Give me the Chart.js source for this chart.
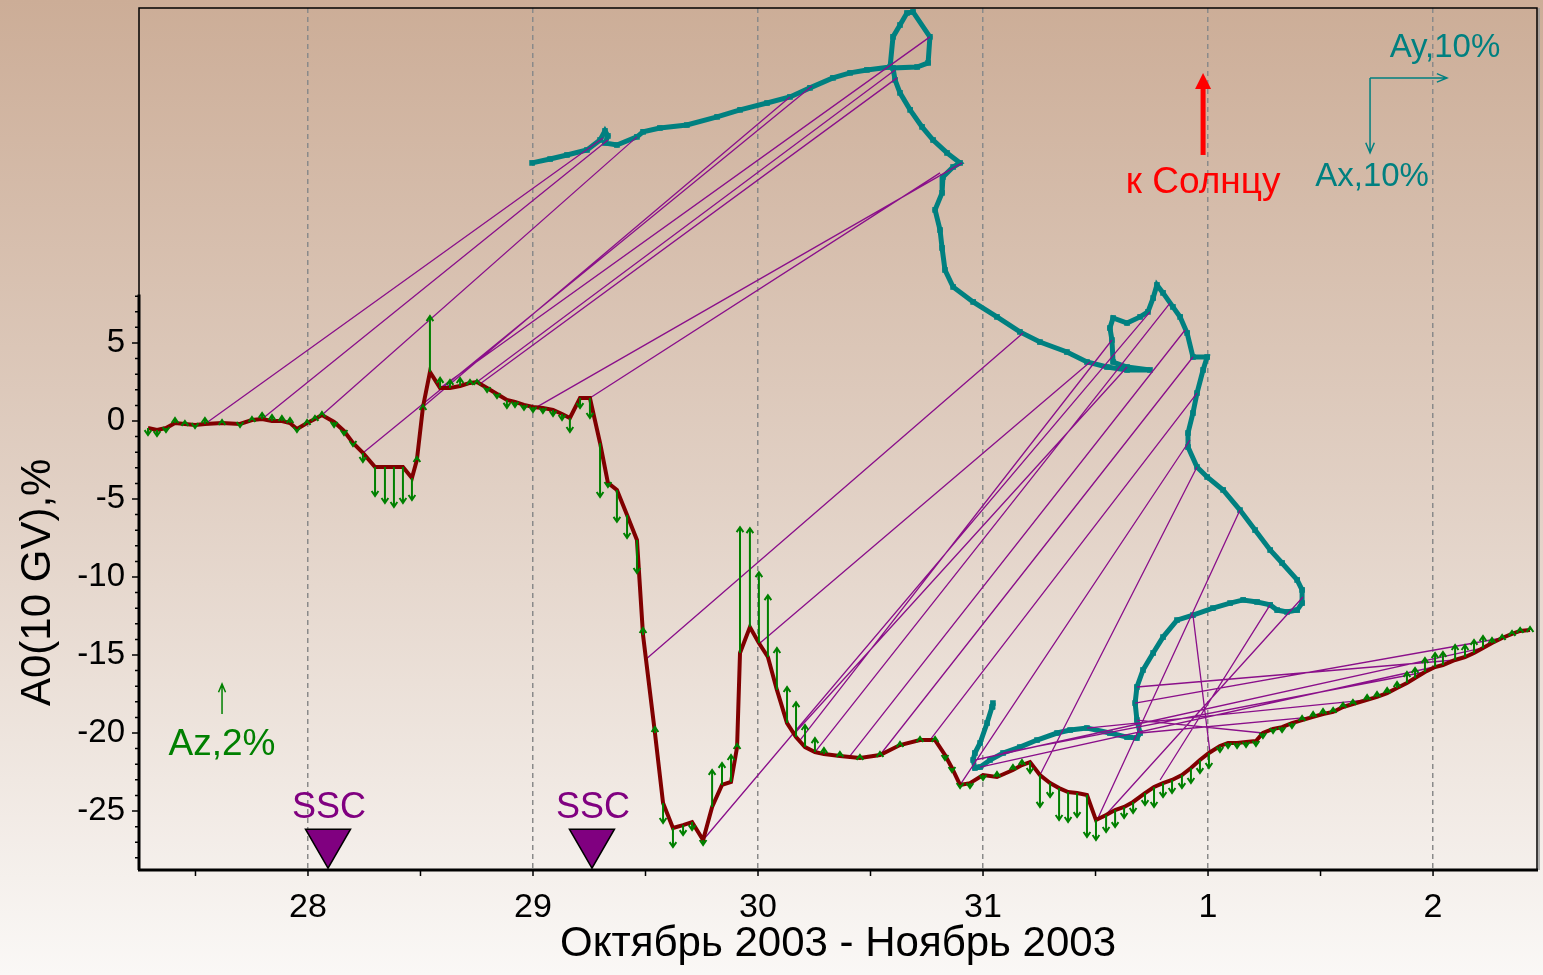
<!DOCTYPE html>
<html>
<head>
<meta charset="utf-8">
<script src="https://cdn.jsdelivr.net/npm/chart.js@4.4.0/dist/chart.umd.min.js"></script>
<style>
html, body { margin: 0; padding: 0; }
#wrap { width: 1543px; height: 975px; position: relative; }
</style>
</head>
<body>
<div id="wrap"><canvas id="anis-chart"></canvas></div>
<script>
// time axis: days since 28 Oct 2003 00:00
const dayTicks = [0, 1, 2, 3, 4, 5];
const dayLabels = ['28', '29', '30', '31', '1', '2'];
const yTicks = [-25, -20, -15, -10, -5, 0, 5];

// A0 (10 GV), % and Az, % at the same hours
const a0Time = [
  -0.711,-0.671,-0.631,-0.591,-0.547,-0.502,-0.458,-0.382,-0.302,-0.249,
  -0.204,-0.16,-0.116,-0.08,-0.049,-0.004,0.031,0.062,0.116,0.16,
  0.2,0.244,0.298,0.342,0.382,0.422,0.462,0.484,0.511,0.542,
  0.587,0.631,0.676,0.72,0.751,0.796,0.84,0.884,0.92,0.96,
  1.0,1.044,1.089,1.129,1.164,1.209,1.253,1.298,1.333,1.373,
  1.418,1.462,1.489,1.542,1.578,1.622,1.667,1.707,1.756,1.796,
  1.84,1.88,1.907,1.92,1.964,2.004,2.044,2.084,2.129,2.169,
  2.209,2.253,2.293,2.364,2.453,2.542,2.631,2.72,2.787,2.831,
  2.862,2.898,2.942,3.0,3.062,3.133,3.173,3.209,3.253,3.298,
  3.338,3.378,3.418,3.462,3.502,3.547,3.587,3.627,3.667,3.72,
  3.76,3.8,3.84,3.884,3.924,3.964,4.004,4.053,4.089,4.129,
  4.169,4.213,4.244,4.289,4.329,4.373,4.418,4.467,4.511,4.556,
  4.6,4.644,4.707,4.751,4.796,4.84,4.884,4.92,4.964,5.009,
  5.044,5.098,5.142,5.182,5.222,5.262,5.307,5.351,5.387,5.431
];
const a0Value = [
  -0.45,-0.58,-0.45,-0.13,-0.19,-0.26,-0.19,-0.13,-0.19,0.06,
  0.13,0,0,-0.13,-0.51,-0.13,0.13,0.38,-0.06,-0.64,
  -1.41,-2.05,-2.95,-2.95,-2.95,-2.95,-3.65,-2.5,0.9,3.14,
  2.12,2.12,2.24,2.44,2.5,2.12,1.73,1.35,1.22,1.03,
  0.9,0.83,0.71,0.45,0.19,1.47,1.47,-1.41,-3.97,-4.42,
  -6.03,-7.63,-13.72,-20.0,-24.49,-26.09,-25.9,-25.71,-26.86,-24.74,
  -23.33,-23.14,-20.9,-14.87,-13.21,-14.23,-15.13,-17.24,-19.36,-20.26,
  -20.9,-21.22,-21.35,-21.47,-21.6,-21.41,-20.77,-20.45,-20.45,-21.41,
  -22.24,-23.33,-23.21,-22.69,-22.82,-22.37,-22.05,-21.86,-22.69,-23.21,
  -23.53,-23.78,-23.85,-23.97,-25.58,-25.26,-24.94,-24.74,-24.42,-23.85,
  -23.46,-23.21,-23.01,-22.69,-22.24,-21.73,-21.28,-20.83,-20.64,-20.64,
  -20.58,-20.51,-20.0,-19.74,-19.62,-19.36,-19.17,-18.97,-18.78,-18.65,
  -18.33,-18.14,-17.88,-17.69,-17.44,-17.12,-16.79,-16.47,-16.09,-15.77,
  -15.64,-15.32,-15.13,-14.87,-14.55,-14.23,-13.91,-13.65,-13.46,-13.4
];
const a0Az = [
  -0.47,-0.4,-0.27,0.33,0.2,-0.2,0.4,0.2,-0.2,0.2,
  0.4,0.4,0.33,0.33,-0.2,0.2,0.2,0.2,-0.33,-0.27,
  -0.2,-0.6,-1.93,-2.4,-2.67,-2.4,-1.47,0.2,0.13,3.73,
  0.67,0.53,0.53,0.2,0.13,-0.27,-0.27,-0.53,-0.33,-0.33,
  -0.33,-0.33,-0.4,-0.4,-0.93,-0.67,-1.33,-3.6,-0.27,-2.13,
  -1.53,-2.2,0.47,0.4,-1.33,-1.27,-0.67,-0.53,-0.33,2.47,
  1.47,1.8,0.2,8.4,6.6,4.73,4.13,2.8,2.4,2.33,
  1.47,0.93,0.4,0.27,0.2,0.2,0.2,0.2,0.2,-0.33,
  -0.27,-0.2,-0.33,-0.33,0.33,0.33,0.33,-0.73,-2.13,-0.93,
  -2.13,-2.0,-1.6,-2.8,-1.33,-1.13,-1.13,-0.73,-0.73,-0.8,
  -1.33,-0.93,-0.87,-0.87,-1.0,-0.87,-1.0,-0.4,-0.33,-0.33,
  -0.33,-0.33,-0.33,-0.27,-0.33,-0.33,0.27,0.33,0.33,0.27,
  0.27,0.27,0.33,0.33,0.33,0.4,0.73,0.67,0.93,0.93,
  0.87,1.0,0.8,0.87,0.8,0.33,0.2,0.2,0.2,0.2
];

// horizontal anisotropy vector diagram (Ax, Ay) placed in chart units
const hodoX = [
  0.996,1.076,1.151,1.24,1.298,1.32,1.333,1.32,1.373,1.462,
  1.489,1.564,1.684,1.818,1.92,2.04,2.142,2.231,2.333,2.409,
  2.484,2.587,2.6,2.631,2.662,2.689,2.764,2.756,2.707,2.6,
  2.609,2.631,2.676,2.729,2.778,2.84,2.898,2.867,2.822,2.818,
  2.787,2.809,2.818,2.831,2.867,2.956,3.062,3.164,3.253,3.373,
  3.462,3.551,3.64,3.742,3.64,3.578,3.573,3.564,3.578,3.64,
  3.698,3.733,3.756,3.773,3.8,3.844,3.876,3.907,3.933,3.996,
  3.978,3.951,3.933,3.911,3.911,3.951,3.996,4.067,4.142,4.209,
  4.276,4.329,4.396,4.418,4.418,4.396,4.351,4.307,4.276,4.218,
  4.156,4.098,4.022,3.933,3.862,3.8,3.756,3.711,3.684,3.676,
  3.684,3.698,3.684,3.64,3.564,3.462,3.387,3.329,3.24,3.164,
  3.089,3.031,2.987,2.964,2.956,2.964,2.987,3.018,3.04,3.044
];
const hodoY = [
  16.54,16.79,17.05,17.37,18.01,18.59,18.27,17.82,17.69,18.21,
  18.53,18.78,18.97,19.49,19.94,20.38,20.77,21.35,21.99,22.31,
  22.5,22.69,24.62,25.38,26.15,26.22,24.62,22.95,22.69,22.63,
  21.86,21.03,19.94,18.85,18.01,17.18,16.54,16.28,15.64,14.62,
  13.53,12.24,11.09,9.68,8.59,7.63,6.67,5.71,5.06,4.42,
  3.78,3.46,3.27,3.27,3.46,3.78,5.19,5.96,6.6,6.28,
  6.67,6.99,7.88,8.72,8.21,7.31,6.67,5.64,4.1,4.1,
  3.27,1.79,0.51,-0.77,-1.67,-2.95,-3.59,-4.42,-5.71,-6.99,
  -8.27,-9.1,-10.19,-10.83,-11.67,-12.12,-12.24,-12.12,-11.79,-11.6,
  -11.47,-11.67,-11.99,-12.44,-12.76,-13.85,-14.87,-15.96,-17.05,-18.08,
  -19.17,-20.0,-20.32,-20.26,-20.0,-19.68,-19.81,-20.0,-20.45,-20.9,
  -21.28,-21.73,-22.18,-22.24,-21.73,-21.28,-20.64,-19.36,-18.33,-18.08
];

// connectors: A0 point -> diagram point at the same hour
const linkT = [-0.458,-0.204,0.062,0.244,0.511,0.587,0.751,0.764,1.018,1.253,
  1.498,1.756,2.009,2.156,2.187,2.253,2.409,2.542,2.764,2.898,
  3.253,3.507,3.533,3.787,4.009,4.244,4.467,4.707,4.964,5.044,
  5.222,5.307,5.098];
const linkA0 = [-0.19,0.13,0.38,-2.05,0.9,2.12,2.5,2.37,0.9,1.47,
  -15.32,-26.86,-14.23,-20.13,-20.45,-21.22,-21.47,-21.41,-20.45,-23.33,
  -22.69,-25.58,-25.45,-23.01,-21.28,-20.0,-18.97,-17.88,-16.09,-15.64,
  -14.55,-13.91,-15.32];
const linkHx = [1.311,1.333,1.462,2.24,2.142,2.764,2.609,2.618,2.907,2.809,
  3.178,3.742,3.476,3.64,3.573,3.831,3.898,3.933,3.951,3.92,
  3.951,4.142,4.422,4.276,3.933,3.684,3.698,3.462,3.089,2.987,
  2.964,3.676,3.684];
const linkHy = [18.14,18.01,18.21,21.47,20.77,24.62,22.5,21.99,16.54,15.9,
  5.64,6.99,3.78,3.46,5.19,7.56,5.83,4.1,1.79,-1.22,
  -2.95,-5.71,-11.28,-11.79,-12.44,-19.17,-20.0,-19.68,-21.28,-22.18,
  -21.73,-18.08,-17.05];

// sudden storm commencements
const sscTime = [0.089, 1.262];
const sscLevel = -27.0;

const FONT = '"Liberation Sans", Arial, sans-serif';
const AZ_SCALE = 0.96;   // chart units per 1 % of Az
const Y_AXIS_TOP = 8.1;

const notes = {
  sun: { x: 3.978, from: 17.05, to: 22.3, textY: 15.26 },
  hv: { x: 4.72, y: 21.99, ayEnd: 5.062, axEnd: 17.18 },
  ayText: { x: 5.053, y: 23.91 },
  axText: { x: 4.729, y: 15.64 },
  az: { x: -0.382, y: -18.78, pct: 2, textY: -20.77 }
};

const links = [];
linkT.forEach((t, i) => {
  links.push({ x: t, y: linkA0[i] });
  links.push({ x: linkHx[i], y: linkHy[i] });
  links.push({ x: linkHx[i], y: null });
});

function arrow(ctx, x0, y0, x1, y1, head, spread) {
  const a = Math.atan2(y1 - y0, x1 - x0);
  const s = spread || 0.45;
  ctx.beginPath();
  ctx.moveTo(x0, y0);
  ctx.lineTo(x1, y1);
  ctx.moveTo(x1 - head * Math.cos(a - s), y1 - head * Math.sin(a - s));
  ctx.lineTo(x1, y1);
  ctx.lineTo(x1 - head * Math.cos(a + s), y1 - head * Math.sin(a + s));
  ctx.stroke();
}

const background = {
  id: 'background',
  beforeDraw(chart) {
    const { ctx, width, height } = chart;
    const g = ctx.createLinearGradient(0, 0, 0, height);
    g.addColorStop(0, '#ccad97');
    g.addColorStop(0.5, '#e1d0c4');
    g.addColorStop(1, '#faf8f6');
    ctx.save();
    ctx.fillStyle = g;
    ctx.fillRect(0, 0, width, height);
    ctx.restore();
  }
};

const decor = {
  id: 'decor',
  afterDatasetsDraw(chart) {
    const { ctx } = chart;
    const x = chart.scales.x, y = chart.scales.y;
    ctx.save();
    ctx.strokeStyle = '#008000';
    ctx.lineWidth = 2;
    a0Time.forEach((t, i) => {
      const px = x.getPixelForValue(t);
      arrow(ctx, px, y.getPixelForValue(a0Value[i]), px,
        y.getPixelForValue(a0Value[i] + a0Az[i] * AZ_SCALE), 6, 0.6);
    });
    ctx.restore();
  },
  afterDraw(chart) {
    const { ctx, chartArea: area } = chart;
    const x = chart.scales.x, y = chart.scales.y;
    ctx.save();

    // frame and axes
    ctx.strokeStyle = '#000';
    ctx.lineWidth = 1.5;
    ctx.strokeRect(area.left, area.top, area.right - area.left, area.bottom - area.top);
    ctx.strokeStyle = '#9a9a9a';
    ctx.beginPath();
    ctx.moveTo(area.right + 2, area.top);
    ctx.lineTo(area.right + 2, area.bottom);
    ctx.stroke();
    ctx.strokeStyle = '#000';
    ctx.lineWidth = 3;
    ctx.beginPath();
    ctx.moveTo(area.left - 1, area.bottom);
    ctx.lineTo(area.right + 1, area.bottom);
    ctx.moveTo(area.left, y.getPixelForValue(Y_AXIS_TOP));
    ctx.lineTo(area.left, area.bottom);
    ctx.stroke();
    ctx.lineWidth = 1.5;
    ctx.beginPath();
    for (let v = -28; v <= 8; v++) {
      const py = y.getPixelForValue(v);
      ctx.moveTo(area.left - (v % 5 === 0 ? 7 : 4), py);
      ctx.lineTo(area.left, py);
    }
    for (let d = -0.5; d <= 5; d += 0.5) {
      const px = x.getPixelForValue(d);
      ctx.moveTo(px, area.bottom);
      ctx.lineTo(px, area.bottom + 6);
    }
    ctx.stroke();

    // y axis title centred on the drawn axis segment
    const yMid = (y.getPixelForValue(Y_AXIS_TOP) + area.bottom) / 2;
    ctx.fillStyle = '#000';
    ctx.font = '42px ' + FONT;
    ctx.textAlign = 'center';
    ctx.textBaseline = 'middle';
    ctx.translate(38, yMid);
    ctx.rotate(-Math.PI / 2);
    ctx.fillText('A0(10 GV),%', 0, 0);
    ctx.setTransform(1, 0, 0, 1, 0, 0);

    // SSC labels
    ctx.fillStyle = '#800080';
    ctx.font = '36px ' + FONT;
    sscTime.forEach(t => {
      ctx.fillText('SSC', x.getPixelForValue(t) + 1, y.getPixelForValue(sscLevel) - 34);
    });

    // direction to the Sun
    const sx = x.getPixelForValue(notes.sun.x);
    ctx.strokeStyle = '#ff0000';
    ctx.fillStyle = '#ff0000';
    ctx.lineWidth = 5;
    const tipY = y.getPixelForValue(notes.sun.to);
    ctx.beginPath();
    ctx.moveTo(sx, y.getPixelForValue(notes.sun.from));
    ctx.lineTo(sx, tipY + 10);
    ctx.stroke();
    ctx.beginPath();
    ctx.moveTo(sx, tipY);
    ctx.lineTo(sx - 8, tipY + 16);
    ctx.lineTo(sx + 8, tipY + 16);
    ctx.closePath();
    ctx.fill();
    ctx.font = '37px ' + FONT;
    ctx.fillText('к Солнцу', sx, y.getPixelForValue(notes.sun.textY));

    // Ax / Ay scale arrows
    const ox = x.getPixelForValue(notes.hv.x), oy = y.getPixelForValue(notes.hv.y);
    ctx.strokeStyle = '#008080';
    ctx.fillStyle = '#008080';
    ctx.lineWidth = 1.5;
    arrow(ctx, ox, oy, x.getPixelForValue(notes.hv.ayEnd), oy, 11, 0.4);
    arrow(ctx, ox, oy, ox, y.getPixelForValue(notes.hv.axEnd), 11, 0.4);
    ctx.font = '33px ' + FONT;
    ctx.fillText('Ay,10%', x.getPixelForValue(notes.ayText.x), y.getPixelForValue(notes.ayText.y));
    ctx.fillText('Ax,10%', x.getPixelForValue(notes.axText.x), y.getPixelForValue(notes.axText.y));

    // Az scale arrow
    const zx = x.getPixelForValue(notes.az.x);
    ctx.strokeStyle = '#008000';
    ctx.fillStyle = '#008000';
    arrow(ctx, zx, y.getPixelForValue(notes.az.y), zx,
      y.getPixelForValue(notes.az.y + notes.az.pct * AZ_SCALE), 9, 0.4);
    ctx.font = '37px ' + FONT;
    ctx.fillText('Az,2%', zx, y.getPixelForValue(notes.az.textY));

    ctx.restore();
  }
};

const chartField = document.getElementById('anis-chart');
const anisChart = new Chart(chartField, {
  type: 'scatter',
  data: {
    datasets: [
      {
        label: 'SSC',
        data: sscTime.map(t => ({ x: t, y: sscLevel })),
        showLine: false,
        pointStyle: 'triangle',
        rotation: 180,
        pointRadius: 26,
        pointBackgroundColor: '#800080',
        pointBorderColor: '#000',
        pointBorderWidth: 1.5
      },
      {
        label: 'A0',
        data: a0Time.map((t, i) => ({ x: t, y: a0Value[i] })),
        showLine: true,
        borderColor: '#800000',
        borderWidth: 4,
        pointRadius: 0
      },
      {
        label: 'links',
        data: links,
        showLine: true,
        spanGaps: false,
        borderColor: '#8a0f8a',
        borderWidth: 1.3,
        pointRadius: 0
      },
      {
        label: 'Axy',
        data: hodoX.map((v, i) => ({ x: v, y: hodoY[i] })),
        showLine: true,
        borderColor: '#008080',
        borderWidth: 5,
        pointStyle: 'rect',
        pointRadius: 4,
        pointBorderWidth: 0,
        pointBackgroundColor: '#008080'
      }
    ]
  },
  options: {
    responsive: true,
    maintainAspectRatio: false,
    animation: false,
    devicePixelRatio: 1,
    layout: { autoPadding: false, padding: { top: 8, right: 6, left: 0, bottom: 0 } },
    plugins: {
      legend: { display: false },
      tooltip: { enabled: false }
    },
    scales: {
      x: {
        type: 'linear',
        min: -0.751,
        max: 5.462,
        afterBuildTicks: s => { s.ticks = dayTicks.map(v => ({ value: v })); },
        afterFit: s => {
          s.height = 105;
          s.paddingLeft = 0; s.paddingRight = 0;
        },
        ticks: {
          autoSkip: false,
          maxRotation: 0,
          padding: 17,
          color: '#000',
          font: { family: FONT, size: 34 },
          callback: (v, i) => dayLabels[i]
        },
        grid: { drawTicks: false, color: '#8a8a8a', lineWidth: 1.5 },
        border: { display: false, dash: [5, 4] },
        title: {
          display: true,
          text: 'Октябрь 2003 - Ноябрь 2003',
          color: '#000',
          font: { family: FONT, size: 42 },
          padding: { top: 0, bottom: 5 }
        }
      },
      y: {
        type: 'linear',
        min: -28.78,
        max: 26.47,
        afterBuildTicks: s => { s.ticks = yTicks.map(v => ({ value: v })); },
        afterFit: s => {
          s.width = 139;
          s.paddingTop = 0; s.paddingBottom = 0;
        },
        ticks: {
          padding: 14,
          color: '#000',
          font: { family: FONT, size: 33 }
        },
        grid: { display: false, drawTicks: false },
        border: { display: false }
      }
    }
  },
  plugins: [background, decor]
});
</script>
</body>
</html>
